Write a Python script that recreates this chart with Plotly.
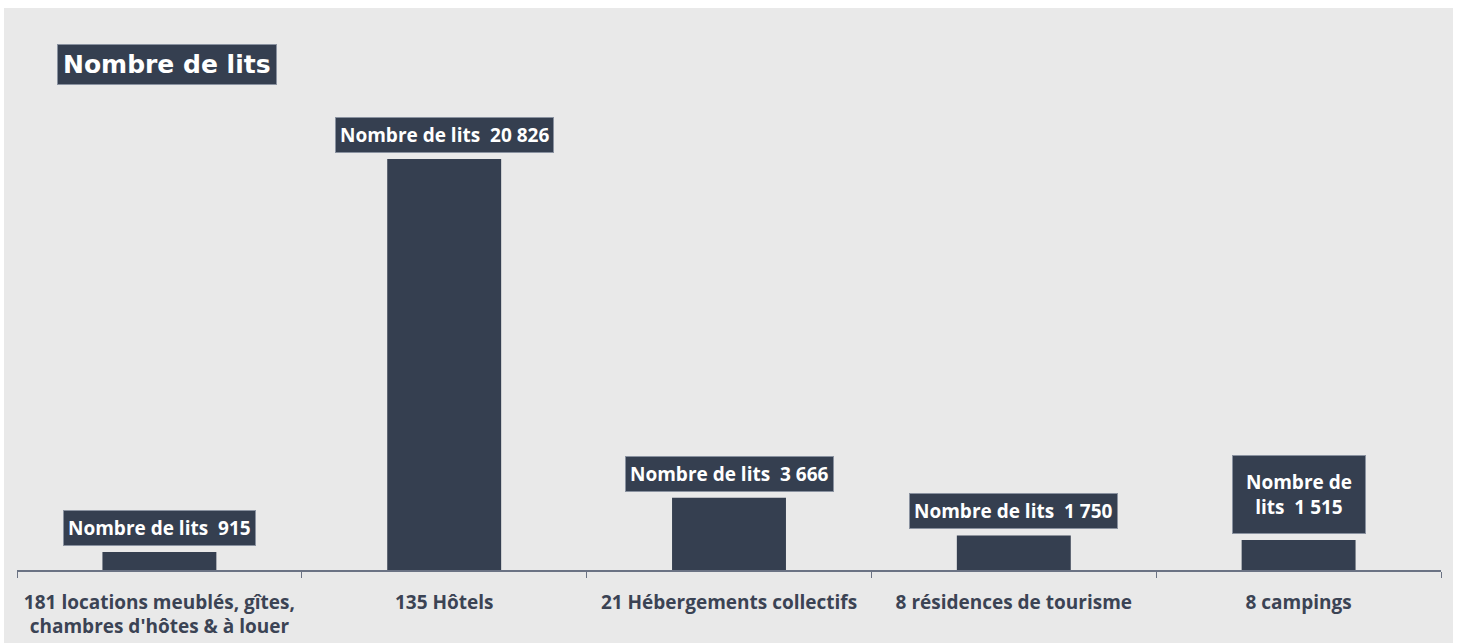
import plotly.graph_objects as go

categories = [
    "181 locations meublés, gîtes,<br>chambres d'hôtes & à louer",
    "135 Hôtels",
    "21 Hébergements collectifs",
    "8 résidences de tourisme",
    "8 campings",
]
values = [915, 20826, 3666, 1750, 1515]
label_prefix = "Nombre de lits"
label_wrap = [False, False, False, False, True]
chart_title = "Nombre de lits"

W, H = 1459, 643
ML, MR, MT, MB = 17, 18, 40, 73
BAR = "#353f50"
BG = "#e9e9e9"
TXT = "#3b4354"
FONT = "Open Sans"


def fmt(v):
    return f"{v:,}".replace(",", " ")


fig = go.Figure(go.Bar(x=categories, y=values, marker=dict(color=BAR, line=dict(width=0)),
                       width=0.4, hoverinfo="skip"))

pw = W - ML - MR
ph = H - MT - MB


def px2x(px):
    return (px - ML) / pw


def px2y(py):
    return (H - MB - py) / ph


fig.add_shape(type="rect", xref="paper", yref="paper", x0=px2x(4), x1=px2x(1453),
              y0=px2y(643), y1=px2y(8), fillcolor=BG, line=dict(width=0), layer="below")

for c, v, wrap in zip(categories, values, label_wrap):
    if wrap:
        t = "Nombre de<br>lits  " + fmt(v)
        pad = 13
    else:
        t = f"{label_prefix}  {fmt(v)}"
        pad = 4
    fig.add_annotation(x=c, y=v, text=f"<b>{t}</b>", showarrow=False, yanchor="bottom",
                       yshift=6, bgcolor=BAR, bordercolor="#8a92a0", borderwidth=1, borderpad=pad,
                       font=dict(family=FONT, size=19, color="white"))

fig.add_annotation(xref="paper", yref="paper", x=px2x(57), y=px2y(44), xanchor="left", yanchor="top",
                   text=f"<b>{chart_title}</b>", showarrow=False, bgcolor=BAR, bordercolor="#8a92a0",
                   borderwidth=1, borderpad=5,
                   font=dict(family="DejaVu Sans", size=25, color="white"))

fig.update_layout(
    width=W, height=H,
    margin=dict(l=ML, r=MR, t=MT, b=MB, autoexpand=False),
    paper_bgcolor="white", plot_bgcolor="rgba(0,0,0,0)",
    showlegend=False,
    xaxis=dict(showline=True, linecolor="#6b7384", linewidth=1.5, ticks="outside", tickson="boundaries",
               ticklen=6, tickcolor="#6b7384", showgrid=False, ticklabelstandoff=14, automargin=False,
               tickfont=dict(family=FONT, size=19, color=TXT), fixedrange=True),
    yaxis=dict(range=[0, 26850], visible=False, showgrid=False, fixedrange=True, automargin=False),
)
fig.update_xaxes(tickprefix="<b>", ticksuffix="</b>")

fig.write_html("out.html", post_script="document.body.style.margin='0';",
               config={"displayModeBar": False})
